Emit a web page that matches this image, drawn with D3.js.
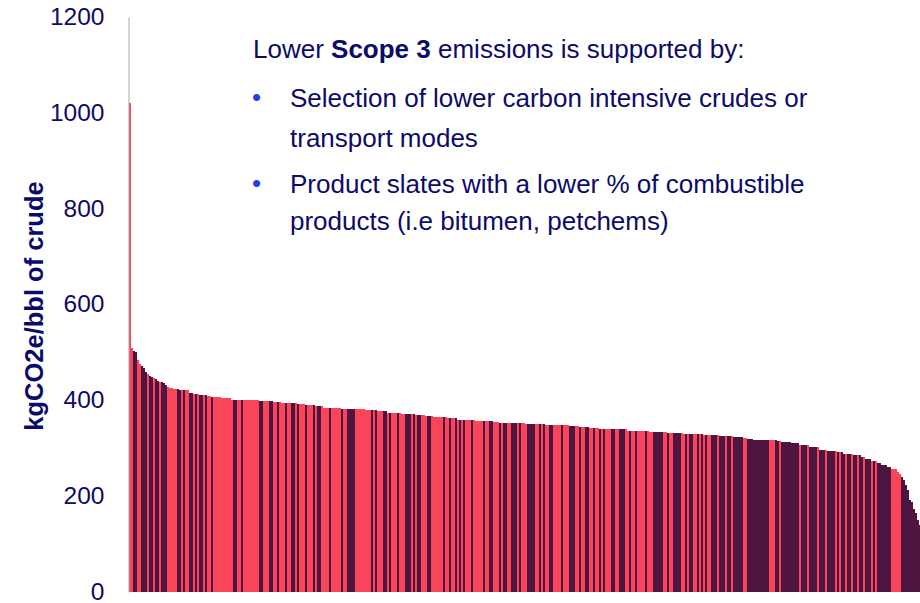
<!DOCTYPE html>
<html>
<head>
<meta charset="utf-8">
<script src="https://cdn.jsdelivr.net/npm/d3@7"></script>
<style>
  html, body { margin: 0; padding: 0; background: #ffffff; }
  svg { display: block; }
  text { font-family: "Liberation Sans", Arial, Helvetica, sans-serif; }
</style>
</head>
<body>
<svg id="chart" width="920" height="603"></svg>
<script>
// Scope 3 intensity per crude (kgCO2e/bbl), sorted from highest to lowest
const emissions = [
  1020,510,504,500,485,475,471,467,459,456,
  451,448,446,444,440,438,438,437,431,428,
  426,426,424,424,424,421,421,421,421,421,
  416,416,413,413,413,412,412,412,412,409,
  409,407,407,407,407,407,405,405,405,405,
  405,401,401,401,401,401,400,400,400,400,
  400,400,400,400,400,399,399,399,399,399,
  399,399,396,396,396,396,395,395,395,395,
  395,395,395,395,393,393,393,393,391,391,
  391,391,391,388,388,388,388,385,385,385,
  385,383,383,383,383,383,381,381,381,381,
  381,381,381,381,381,381,381,381,379,379,
  379,379,379,379,377,377,377,377,377,374,
  374,374,374,374,374,374,372,372,372,372,
  372,372,372,370,370,370,370,370,367,367,
  367,367,365,365,365,365,365,365,365,363,
  363,363,363,363,360,360,360,360,360,359,
  359,359,359,357,357,357,357,356,356,356,
  356,356,354,354,354,353,353,353,353,353,
  353,353,352,352,352,352,352,352,351,351,
  351,351,351,351,350,350,350,350,349,349,
  349,349,349,349,349,348,348,348,348,348,
  346,346,346,346,346,344,344,344,344,344,
  342,342,342,342,342,340,340,340,340,340,
  340,340,340,340,340,340,340,340,340,336,
  336,336,336,336,336,336,336,336,336,336,
  334,334,334,334,334,334,334,334,334,332,
  332,332,332,332,332,332,332,330,330,330,
  330,330,330,330,330,330,330,328,328,328,
  328,328,328,328,328,326,326,326,326,326,
  326,326,324,324,324,324,324,322,322,320,
  320,320,318,318,318,318,318,318,318,317,
  317,317,317,317,315,315,313,313,313,313,
  313,310,310,310,310,306,306,306,306,306,
  303,303,303,303,303,297,297,297,297,294,
  294,294,294,294,292,292,292,289,289,289,
  289,289,285,285,285,285,282,282,278,278,
  278,274,274,274,269,269,265,265,265,260,
  260,256,256,256,250,246,240,233,223,212,
  192,188,174,164,150,139
];

// Crude group of each bar: "0" = group A, "1" = group B
const crudeGroup = [
  "0011001110","1101101110","0000110100","1101011010","0100000000",
  "0011001000","0000011000","1100100010","0110100010","0010110000",
  "1000001001","1110000000","0101000110","1000100011","1010110001",
  "1000000100","1001010100","0100000100","1100010110","0111010001",
  "1110010100","1100001000","1110010011","0010010100","0110011100",
  "1001000010","0011111001","0011110010","1100101010","0111011101",
  "1011111001","1111111111","0001101111","1111101110","1111011101",
  "1110101101","1011011011","1010111111","1000001111","111111"
].join("");

const yTicks = [0, 200, 400, 600, 800, 1000, 1200];
const axisTitle = "kgCO2e/bbl of crude";
const groupColors = ["#f94459", "#4f1541"];

// Annotation: intro line plus bullet paragraphs
const introParts = [
  { text: "Lower ", bold: false },
  { text: "Scope 3", bold: true },
  { text: " emissions is supported by:", bold: false }
];
const bulletParagraphs = [
  ["Selection of lower carbon intensive crudes or", "transport modes"],
  ["Product slates with a lower % of combustible", "products (i.e bitumen, petchems)"]
];

const svg = d3.select("#chart");
const textColor = "#0b0b6b";

const margin = { left: 129, right: 921, top: 17, bottom: 592 };

const x = d3.scaleBand()
  .domain(d3.range(emissions.length))
  .range([margin.left, margin.right])
  .paddingInner(0)
  .paddingOuter(0);

const y = d3.scaleLinear()
  .domain([0, 1200])
  .range([margin.bottom, margin.top]);

// Bars
svg.append("g")
  .attr("shape-rendering", "crispEdges")
  .selectAll("rect")
  .data(emissions)
  .join("rect")
  .attr("x", (d, i) => x(i))
  .attr("width", x.bandwidth())
  .attr("y", d => y(d))
  .attr("height", d => y(0) - y(d))
  .attr("fill", (d, i) => groupColors[+crudeGroup[i]]);

// Y axis
const yAxis = d3.axisLeft(y).tickValues(yTicks).tickSize(0).tickPadding(24).tickFormat(d3.format("d"));
const gy = svg.append("g")
  .attr("transform", `translate(${margin.left - 0.5},0)`)
  .call(yAxis);
gy.select(".domain").attr("stroke", "#a6a6a6").attr("stroke-width", 1);
gy.selectAll(".tick text")
  .attr("fill", textColor)
  .attr("font-size", "24.5px")
  .attr("dy", "0.3em")
  .attr("font-family", "'Liberation Sans', Arial, sans-serif");

// Y axis title
svg.append("text")
  .attr("transform", "translate(43,306) rotate(-90)")
  .attr("text-anchor", "middle")
  .attr("font-size", "25.5px")
  .attr("font-weight", "bold")
  .attr("fill", textColor)
  .text(axisTitle);

// Annotation block
const note = svg.append("g").attr("fill", textColor).attr("font-size", "26px");

const intro = note.append("text").attr("x", 253).attr("y", 58);
intro.selectAll("tspan")
  .data(introParts)
  .join("tspan")
  .attr("font-weight", d => d.bold ? "bold" : "normal")
  .text(d => d.text);

// Each paragraph: first-line baseline and line spacing
const paragraphLayout = [
  { base: 107, gap: 40 },
  { base: 193, gap: 37 }
];
bulletParagraphs.forEach((lines, p) => {
  const { base, gap } = paragraphLayout[p];
  note.append("text")
    .attr("x", 252)
    .attr("y", base - 1)
    .attr("font-size", "26px")
    .attr("fill", "#1f3fe8")
    .text("•");
  lines.forEach((line, k) => {
    note.append("text")
      .attr("x", 290)
      .attr("y", base + k * gap)
      .text(line);
  });
});
</script>
</body>
</html>
